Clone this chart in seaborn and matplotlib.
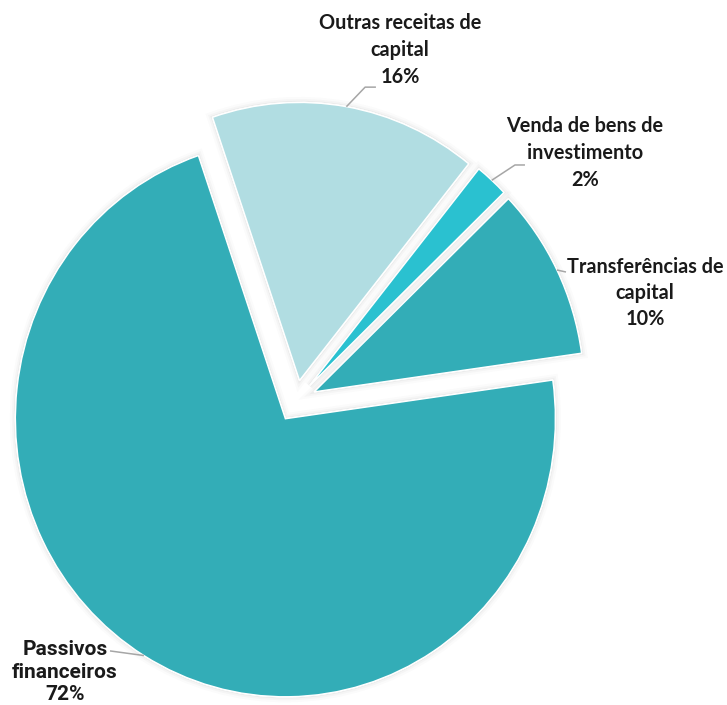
import numpy as np
import matplotlib
matplotlib.use('Agg')
import matplotlib.pyplot as plt
import matplotlib.patheffects as pe
import seaborn as sns

# -------------------------------------------------------------
# DATA
# -------------------------------------------------------------
categories = ['Transferências de\ncapital', 'Venda de bens de\ninvestimento',
              'Outras receitas de\ncapital', 'Passivos\nfinanceiros']
shares = [10, 2, 16, 72]
slice_colors = ['#33ADB7', '#2AC1D0', '#B1DDE2', '#33ADB7']

# label positions (data units, pie radius = 1)
label_xy = [(1.293, 0.388), (1.070, 0.892), (0.385, 1.263), (-0.856, -0.975)]
# leader line elbow / end points
leader_pts = [
    [(1.0, 0.464)],
    [(0.811, 0.849), (0.848, 0.849)],
    [(0.256, 1.129), (0.296, 1.129)],
    [(-0.689, -0.899)],
]
label_fonts = [['Lato', 'DejaVu Sans'], ['Lato', 'DejaVu Sans'],
               ['Lato', 'DejaVu Sans'], ['Roboto', 'DejaVu Sans']]
label_sizes = [14.3, 14.3, 14.3, 15]
label_spacing = [1.38, 1.45, 1.45, 1.25]

# -------------------------------------------------------------
# STYLE
# -------------------------------------------------------------
sns.set_theme(style='white')
palette = sns.color_palette(slice_colors)

fig = plt.figure(figsize=(7.27, 7.05), dpi=100)
ax = fig.add_axes([0, 0, 1, 1])

start = 8
wedges, _ = ax.pie(
    shares,
    colors=palette,
    startangle=start,
    counterclock=True,
    explode=[0.075] * 4,
    radius=1,
)

# soft grey halo around the slices
glow = [pe.withStroke(linewidth=w, foreground='#9a9a9a', alpha=a)
        for w, a in [(8, 0.04), (5, 0.06), (2.5, 0.09)]] + [pe.Normal()]
for w in wedges:
    w.set_path_effects(glow)

# pixel-to-data scaling (slightly taller than wide, like the source)
ax.set_aspect('auto')
ax.set_xlim(-296 / 270, (727 - 296) / 270)
ax.set_ylim(-(705 - 401) / 278, 401 / 278)
ax.axis('off')

# labels + leader lines
for w, cat, val, (lx, ly), pts, fam, fs, ls in zip(wedges, categories, shares,
                                                  label_xy, leader_pts,
                                                  label_fonts, label_sizes,
                                                  label_spacing):
    mid = np.deg2rad((w.theta1 + w.theta2) / 2)
    cx, cy = w.center
    ax_pt = (cx + w.r * np.cos(mid), cy + w.r * np.sin(mid))
    xs = [ax_pt[0]] + [p[0] for p in pts]
    ys = [ax_pt[1]] + [p[1] for p in pts]
    ax.plot(xs, ys, color='#A6A6A6', linewidth=1.1, solid_capstyle='butt')
    ax.text(lx, ly, f'{cat}\n{val}%', ha='center', va='center',
            multialignment='center', fontsize=fs, fontweight='bold',
            family=fam, color='#1a1a1a', linespacing=ls)

fig.savefig('out.png', dpi=100)
